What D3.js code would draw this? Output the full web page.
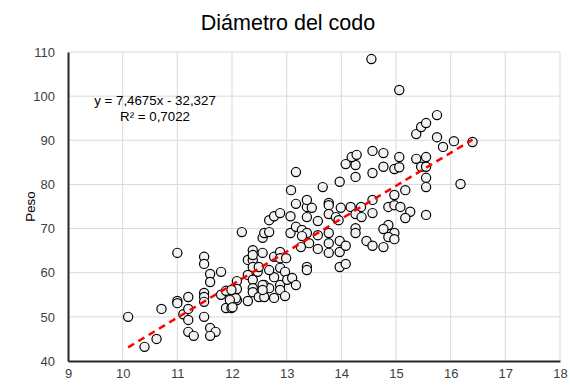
<!DOCTYPE html>
<html>
<head>
<meta charset="utf-8">
<script src="https://cdn.jsdelivr.net/npm/d3@7"></script>
<style>
  html, body { margin: 0; padding: 0; background: #fff; }
  svg { display: block; font-family: "Liberation Sans", Arial, sans-serif; }
</style>
</head>
<body>
<svg id="chart" width="570" height="385"></svg>
<script>
// Elbow diameter (cm) against body weight (kg)
const diametro = [
  10.10, 10.40, 10.62, 10.71, 11.00, 11.00, 11.00, 11.11, 11.20, 11.20,
  11.20, 11.20, 11.30, 11.49, 11.49, 11.49, 11.49, 11.49, 11.49, 11.60,
  11.60, 11.60, 11.70, 11.60, 11.80, 11.80, 11.89, 11.89, 11.99, 12.09,
  12.09, 11.99, 12.09, 12.29, 12.29, 12.38, 12.38, 12.38, 12.47, 12.49,
  12.59, 12.59, 12.68, 12.77, 12.77, 12.88, 12.88, 12.88, 12.97, 12.97,
  13.01, 13.10, 13.17, 12.18, 12.29, 12.38, 12.38, 12.38, 12.56, 12.77,
  12.88, 12.88, 12.99, 12.38, 12.49, 12.68, 12.56, 12.59, 12.68, 12.68,
  12.77, 12.88, 13.07, 13.07, 13.17, 13.28, 13.37, 13.28, 13.41, 13.26,
  13.37, 13.37, 13.17, 13.08, 13.17, 13.37, 13.37, 13.46, 13.37, 13.57,
  13.57, 13.57, 13.77, 13.66, 13.77, 13.77, 13.77, 13.90, 13.95, 13.77,
  13.77, 13.97, 13.97, 14.08, 13.97, 14.08, 13.97, 14.08, 14.26, 14.26,
  14.19, 14.28, 13.99, 14.17, 14.36, 14.26, 14.37, 14.57, 14.57, 14.26,
  14.26, 14.46, 14.57, 14.77, 14.57, 14.57, 14.77, 14.77, 14.55, 15.06,
  14.97, 15.06, 15.06, 15.37, 15.55, 15.46, 15.55, 15.55, 15.55, 16.18,
  15.37, 15.46, 15.55, 15.75, 15.75, 15.86, 16.06, 16.40, 15.17, 14.97,
  14.86, 14.97, 15.08, 15.26, 15.17, 15.55, 14.86, 14.77, 14.97, 14.86,
  14.97, 12.07, 11.96, 12.01, 12.56, 12.56
];
const peso = [
  50.0, 43.2, 45.0, 51.8, 64.5, 53.6, 53.1, 50.6, 54.5, 51.8,
  49.3, 46.6, 45.7, 63.6, 62.0, 55.4, 54.5, 53.4, 50.0, 59.7,
  57.9, 47.5, 46.6, 45.7, 60.2, 55.0, 55.9, 52.0, 52.0, 58.1,
  56.3, 56.1, 53.8, 53.6, 59.5, 58.4, 56.5, 55.6, 60.2, 54.5,
  57.2, 54.5, 56.5, 59.0, 54.3, 57.2, 56.1, 61.1, 60.2, 54.7,
  58.4, 58.8, 57.2, 69.2, 62.9, 62.9, 65.1, 64.0, 64.5, 63.6,
  64.7, 63.3, 63.3, 61.3, 61.3, 60.6, 67.9, 69.0, 69.2, 71.9,
  72.8, 73.5, 72.8, 69.0, 70.4, 69.7, 69.0, 68.3, 66.7, 65.8,
  61.3, 60.6, 82.8, 78.7, 75.6, 74.9, 76.5, 74.7, 72.6, 71.7,
  68.5, 65.4, 64.5, 79.4, 75.8, 75.3, 73.3, 72.6, 71.9, 69.0,
  66.7, 67.2, 64.7, 66.1, 61.3, 62.0, 80.6, 84.6, 84.4, 81.7,
  86.2, 86.7, 74.7, 74.9, 74.9, 73.3, 72.6, 73.5, 76.5, 70.1,
  69.0, 67.2, 66.1, 65.8, 82.6, 87.6, 87.1, 84.0, 108.4, 101.4,
  83.5, 83.9, 86.2, 85.8, 86.2, 84.0, 84.0, 81.5, 79.4, 80.1,
  91.4, 93.0, 93.9, 95.7, 90.7, 88.5, 89.8, 89.6, 78.7, 77.6,
  74.9, 75.3, 74.9, 73.8, 72.4, 73.1, 70.8, 69.9, 69.0, 68.1,
  67.6, 54.2, 53.8, 52.2, 57.2, 56.1
];

// Least-squares fit shown on the chart
const pendiente = 7.4675;
const intercepto = -32.327;
const r2 = 0.7022;

const xTicks = [9, 10, 11, 12, 13, 14, 15, 16, 17, 18];
const yTicks = [40, 50, 60, 70, 80, 90, 100, 110];

const titulo = "Diámetro del codo";
const etiquetaY = "Peso";

const fmt = d3.formatLocale({ decimal: ",", thousands: ".", grouping: [3], currency: ["", ""] });
const f4 = fmt.format(".4f"), f3 = fmt.format(".3f");
const ecuacion = `y = ${f4(pendiente)}x - ${f3(Math.abs(intercepto))}`;
const textoR2 = `R² = ${f4(r2)}`;

const svg = d3.select("#chart");
const W = 570, H = 385;
const m = { left: 68, right: 10, top: 52, bottom: 24 };

const x = d3.scaleLinear().domain([9, 18]).range([m.left, W - m.right]);
const y = d3.scaleLinear().domain([40, 110]).range([H - m.bottom, m.top]);

// Grid
svg.append("g")
  .selectAll("line.v")
  .data(xTicks.slice(1))
  .join("line")
  .attr("x1", d => x(d)).attr("x2", d => x(d))
  .attr("y1", y(40)).attr("y2", y(110))
  .attr("stroke", "#d9d9d9").attr("stroke-width", 1);
svg.append("g")
  .selectAll("line.h")
  .data(yTicks.slice(1))
  .join("line")
  .attr("x1", x(9)).attr("x2", x(18))
  .attr("y1", d => y(d)).attr("y2", d => y(d))
  .attr("stroke", "#d9d9d9").attr("stroke-width", 1);

// Axes
const xAxis = svg.append("g")
  .attr("transform", `translate(0,${y(40)})`)
  .call(d3.axisBottom(x).tickValues(xTicks).tickSize(0).tickPadding(8));
const yAxis = svg.append("g")
  .attr("transform", `translate(${x(9)},0)`)
  .call(d3.axisLeft(y).tickValues(yTicks).tickSize(0).tickPadding(13));
[xAxis, yAxis].forEach(g => {
  g.select(".domain").attr("stroke", "#262626").attr("stroke-width", 2);
  g.selectAll("text")
    .attr("font-family", "Liberation Sans, Arial, sans-serif")
    .attr("font-size", 13)
    .attr("fill", "#404040");
});

// Points
const puntos = diametro.map((d, i) => ({ x: d, y: peso[i] }));
svg.append("g")
  .selectAll("circle")
  .data(puntos)
  .join("circle")
  .attr("cx", d => x(d.x))
  .attr("cy", d => y(d.y))
  .attr("r", 4.6)
  .attr("fill", "#f2f2f2")
  .attr("stroke", "#000")
  .attr("stroke-width", 1.2);

// Trend line across the observed range
const [xmin, xmax] = d3.extent(diametro);
svg.append("line")
  .attr("x1", x(xmin)).attr("y1", y(pendiente * xmin + intercepto))
  .attr("x2", x(xmax)).attr("y2", y(pendiente * xmax + intercepto))
  .attr("stroke", "#ff0000")
  .attr("stroke-width", 2.5)
  .attr("stroke-dasharray", "7,5");

// Equation
const eq = svg.append("text")
  .attr("x", 155).attr("y", 105)
  .attr("text-anchor", "middle")
  .attr("font-size", 13.3).attr("fill", "#000");
eq.append("tspan").attr("x", 155).attr("dy", 0).text(ecuacion);
eq.append("tspan").attr("x", 155).attr("dy", 16).text(textoR2);

// Title
svg.append("text")
  .attr("x", 288).attr("y", 30)
  .attr("text-anchor", "middle")
  .attr("font-size", 21.5)
  .attr("fill", "#000")
  .text(titulo);

// Y label
svg.append("text")
  .attr("transform", `translate(35,${(y(40) + y(110)) / 2}) rotate(-90)`)
  .attr("text-anchor", "middle")
  .attr("font-size", 13.3)
  .attr("fill", "#000")
  .text(etiquetaY);
</script>
</body>
</html>
